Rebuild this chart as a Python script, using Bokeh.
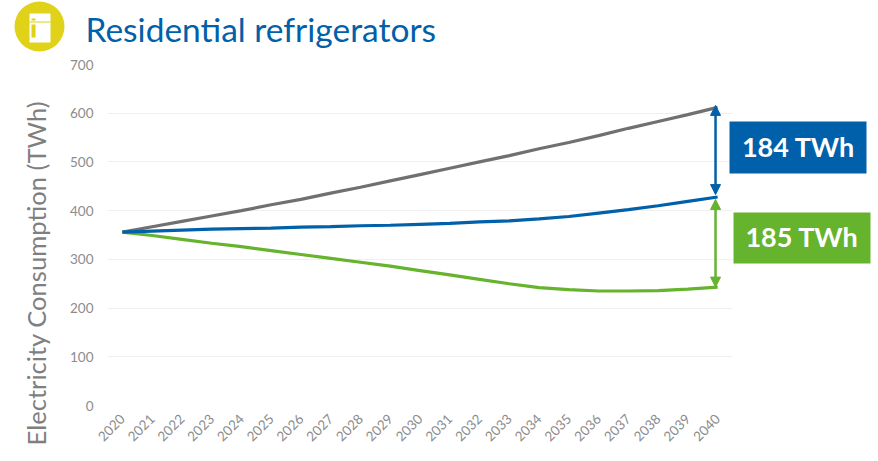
import math
from bokeh.core.properties import value
from bokeh.embed import file_html
from bokeh.layouts import column
from bokeh.models import Arrow, NormalHead, Range1d, Title
from bokeh.plotting import figure
from bokeh.resources import INLINE

years = list(range(2020, 2041))
baseline = [356, 367, 378, 389, 400, 412, 423, 436, 448, 461, 474, 487, 500, 513, 527, 540, 554, 569, 583, 597, 612]
regulated = [356, 358, 360, 362, 363, 364, 366, 367, 369, 370, 372, 374, 377, 379, 383, 388, 395, 402, 410, 419, 428]
efficient = [356, 349, 341, 333, 326, 318, 310, 302, 294, 286, 277, 268, 259, 250, 242, 238, 235, 235, 236, 239, 243]
y_ticks = [0, 100, 200, 300, 400, 500, 600, 700]

BLUE = "#0060A9"
GREEN = "#66B32E"
GRAY = "#707070"
YELLOW = "#E0D119"
FONT = "Lato"

W, H = 878, 461
HEADER_H = 55
FRAME_LEFT, FRAME_TOP, FRAME_BOTTOM = 107, 64, 405
YEAR_STEP = (732 - FRAME_LEFT) / 21

# Header strip: badge with a refrigerator pictogram and the title, in page pixels.
header = figure(
    width=W, height=HEADER_H, output_backend="svg", toolbar_location=None,
    x_range=(0, W), y_range=(HEADER_H, 0), x_axis_location=None, y_axis_location=None,
    min_border=0,
)
header.frame_align = False
header.outline_line_color = None
header.grid.visible = False
header.scatter([39], [26], marker="circle", size=50, fill_color=YELLOW, line_color=None)
header.quad(left=[29], right=[50], top=[13], bottom=[42], fill_color="white", line_color=None)
header.quad(left=[29, 31, 31], right=[50, 35, 35], top=[21, 18, 24], bottom=[22, 20, 37],
            fill_color=YELLOW, line_color=None)
header.text([85], [28], text=["Residential refrigerators"], text_font=value(FONT),
            text_font_size="33.5px", text_color=BLUE, text_baseline="alphabetic")

# Main chart: the frame runs to the page edge so the value boxes can sit inside it.
p = figure(
    width=W, height=H - HEADER_H, output_backend="svg", toolbar_location=None,
    x_range=(2019.5, 2019.5 + (W - FRAME_LEFT) / YEAR_STEP), y_range=(0, 700),
    min_border_left=FRAME_LEFT, min_border_right=0,
    min_border_top=FRAME_TOP - HEADER_H, min_border_bottom=H - FRAME_BOTTOM,
)
p.frame_align = False
p.extra_x_ranges = {"page": Range1d(FRAME_LEFT, W)}
p.extra_y_ranges = {"page": Range1d(FRAME_BOTTOM, FRAME_TOP)}
p.outline_line_color = None
p.background_fill_color = "white"
p.xgrid.visible = False
p.ygrid.ticker = y_ticks
p.ygrid.grid_line_color = "#F0F0F0"
p.ygrid.grid_line_width = 1

p.xaxis.ticker = years
p.xaxis.major_label_orientation = math.pi / 4
p.yaxis.ticker = y_ticks
for ax in (p.xaxis[0], p.yaxis[0]):
    ax.axis_line_color = None
    ax.major_tick_line_color = None
    ax.minor_tick_line_color = None
    ax.major_label_text_color = "#8C8C8C"
    ax.major_label_text_font = FONT
    ax.major_label_text_font_size = "13.5px"
p.yaxis.major_label_standoff = 8
p.xaxis.major_label_standoff = 5

# The value-axis caption starts below the frame's lower edge, so it is a side title with an offset.
p.add_layout(Title(text="Electricity Consumption (TWh)", align="left", offset=-40, standoff=34,
                   text_font=FONT, text_font_size="25.6px", text_font_style="normal",
                   text_color="#7F7F7F"), "left")

# Grid lines stop at the last year's band; the area to its right stays blank.
p.quad(left=[732], right=[W], top=[FRAME_TOP], bottom=[FRAME_BOTTOM], fill_color="white",
       line_color=None, x_range_name="page", y_range_name="page")

p.line(years, baseline, line_color=GRAY, line_width=3.2)
p.line(years, efficient, line_color=GREEN, line_width=3.2)
p.line(years, regulated, line_color=BLUE, line_width=3.2)


def double_arrow(top, bottom, color):
    head = lambda: NormalHead(size=10, fill_color=color, line_color=color)
    p.add_layout(Arrow(start=head(), end=head(), x_start=2039.93, x_end=2039.93,
                       y_start=bottom, y_end=top, line_color=color, line_width=2.5))


double_arrow(baseline[-1] + 4, regulated[-1] + 5, BLUE)
double_arrow(regulated[-1] - 5, efficient[-1], GREEN)

p.quad(left=[729], right=[866], top=[121], bottom=[173], fill_color=BLUE, line_color=None,
       x_range_name="page", y_range_name="page")
p.quad(left=[733], right=[870], top=[212], bottom=[263], fill_color=GREEN, line_color=None,
       x_range_name="page", y_range_name="page")
p.text([798, 801.5], [146, 236], text=["184 TWh", "185 TWh"], text_font=value(FONT),
       text_font_size="27px", text_font_style="bold", text_color="white",
       text_align="center", text_baseline="alphabetic",
       x_range_name="page", y_range_name="page")

page = column(header, p, spacing=0)
open("out.html", "w").write(file_html(page, INLINE))
